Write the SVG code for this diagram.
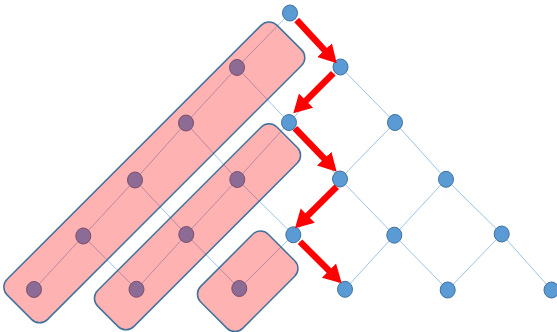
<svg xmlns="http://www.w3.org/2000/svg" width="557" height="332" viewBox="0 0 557 332">
<style>
.e{stroke:#9DC3E6;stroke-width:1;fill:none}
.n{fill:#5B9BD5;stroke:#41719C;stroke-width:1}
.b{fill:#FF0000;fill-opacity:0.3;stroke:#41719C;stroke-width:1.5}
.a{stroke:#FF0000;stroke-width:6.5;fill:none;marker-end:url(#ah)}
</style>
<defs>
<marker id="ah" markerUnits="userSpaceOnUse" viewBox="0 -11 20 22" markerWidth="20" markerHeight="22" refX="2" refY="0" orient="auto">
<path d="M0,-10 L18,0 L0,10 Z" fill="#FF0000"/>
</marker>
</defs>
<rect width="557" height="332" fill="#FFFFFF"/>
<g id="connectors">
<line class="e" x1="290" y1="13" x2="237" y2="67.5"/>
<line class="e" x1="290" y1="13" x2="340.5" y2="67"/>
<line class="e" x1="237" y1="67.5" x2="186" y2="123"/>
<line class="e" x1="237" y1="67.5" x2="289" y2="122.5"/>
<line class="e" x1="340.5" y1="67" x2="289" y2="122.5"/>
<line class="e" x1="340.5" y1="67" x2="395" y2="122.5"/>
<line class="e" x1="186" y1="123" x2="135" y2="180"/>
<line class="e" x1="186" y1="123" x2="237.3" y2="179.5"/>
<line class="e" x1="289" y1="122.5" x2="237.3" y2="179.5"/>
<line class="e" x1="289" y1="122.5" x2="340" y2="179"/>
<line class="e" x1="395" y1="122.5" x2="340" y2="179"/>
<line class="e" x1="395" y1="122.5" x2="446" y2="179.3"/>
<line class="e" x1="135" y1="180" x2="83.3" y2="236"/>
<line class="e" x1="135" y1="180" x2="186.3" y2="234.5"/>
<line class="e" x1="237.3" y1="179.5" x2="186.3" y2="234.5"/>
<line class="e" x1="237.3" y1="179.5" x2="293.3" y2="234.8"/>
<line class="e" x1="340" y1="179" x2="293.3" y2="234.8"/>
<line class="e" x1="340" y1="179" x2="394.3" y2="235.2"/>
<line class="e" x1="446" y1="179.3" x2="394.3" y2="235.2"/>
<line class="e" x1="446" y1="179.3" x2="501.7" y2="234"/>
<line class="e" x1="83.3" y1="236" x2="34" y2="289.5"/>
<line class="e" x1="83.3" y1="236" x2="136.5" y2="289.3"/>
<line class="e" x1="186.3" y1="234.5" x2="136.5" y2="289.3"/>
<line class="e" x1="186.3" y1="234.5" x2="239.3" y2="288.5"/>
<line class="e" x1="293.3" y1="234.8" x2="239.3" y2="288.5"/>
<line class="e" x1="293.3" y1="234.8" x2="345" y2="289.3"/>
<line class="e" x1="394.3" y1="235.2" x2="345" y2="289.3"/>
<line class="e" x1="394.3" y1="235.2" x2="447.7" y2="290"/>
<line class="e" x1="501.7" y1="234" x2="447.7" y2="290"/>
<line class="e" x1="501.7" y1="234" x2="551.5" y2="290"/>
</g>
<g id="nodes">
<g id="n0_0"><ellipse class="n" cx="290" cy="13" rx="7.5" ry="8"/></g>
<g id="n1_0"><ellipse class="n" cx="237" cy="67.5" rx="7.5" ry="8"/></g>
<g id="n1_1"><ellipse class="n" cx="340.5" cy="67" rx="7.5" ry="8"/></g>
<g id="n2_0"><ellipse class="n" cx="186" cy="123" rx="7.5" ry="8"/></g>
<g id="n2_1"><ellipse class="n" cx="289" cy="122.5" rx="7.5" ry="8"/></g>
<g id="n2_2"><ellipse class="n" cx="395" cy="122.5" rx="7.5" ry="8"/></g>
<g id="n3_0"><ellipse class="n" cx="135" cy="180" rx="7.5" ry="8"/></g>
<g id="n3_1"><ellipse class="n" cx="237.3" cy="179.5" rx="7.5" ry="8"/></g>
<g id="n3_2"><ellipse class="n" cx="340" cy="179" rx="7.5" ry="8"/></g>
<g id="n3_3"><ellipse class="n" cx="446" cy="179.3" rx="7.5" ry="8"/></g>
<g id="n4_0"><ellipse class="n" cx="83.3" cy="236" rx="7.5" ry="8"/></g>
<g id="n4_1"><ellipse class="n" cx="186.3" cy="234.5" rx="7.5" ry="8"/></g>
<g id="n4_2"><ellipse class="n" cx="293.3" cy="234.8" rx="7.5" ry="8"/></g>
<g id="n4_3"><ellipse class="n" cx="394.3" cy="235.2" rx="7.5" ry="8"/></g>
<g id="n4_4"><ellipse class="n" cx="501.7" cy="234" rx="7.5" ry="8"/></g>
<g id="n5_0"><ellipse class="n" cx="34" cy="289.5" rx="7.5" ry="8"/></g>
<g id="n5_1"><ellipse class="n" cx="136.5" cy="289.3" rx="7.5" ry="8"/></g>
<g id="n5_2"><ellipse class="n" cx="239.3" cy="288.5" rx="7.5" ry="8"/></g>
<g id="n5_3"><ellipse class="n" cx="345" cy="289.3" rx="7.5" ry="8"/></g>
<g id="n5_4"><ellipse class="n" cx="447.7" cy="290" rx="7.5" ry="8"/></g>
<g id="n5_5"><ellipse class="n" cx="551.5" cy="290" rx="7.5" ry="8"/></g>
</g>
<g id="groups">
<g id="box1"><rect class="b" x="202.5" y="-178" width="57" height="381.5" rx="11" transform="rotate(45)"/></g>
<g id="box2"><rect class="b" x="274.5" y="-106" width="51" height="253.4" rx="11" transform="rotate(45)"/></g>
<g id="box3"><rect class="b" x="344.4" y="-24" width="59.4" height="95.6" rx="11" transform="rotate(45)"/></g>
</g>
<g id="arrows">
<line class="a" x1="296.7" y1="20" x2="325.9" y2="51.6"/>
<line class="a" x1="333.3" y1="73.3" x2="304.6" y2="102"/>
<line class="a" x1="295" y1="128.3" x2="325.6" y2="160.1"/>
<line class="a" x1="336.7" y1="186.7" x2="306.3" y2="217"/>
<line class="a" x1="300" y1="241.7" x2="330.4" y2="272"/>
</g>
</svg>
